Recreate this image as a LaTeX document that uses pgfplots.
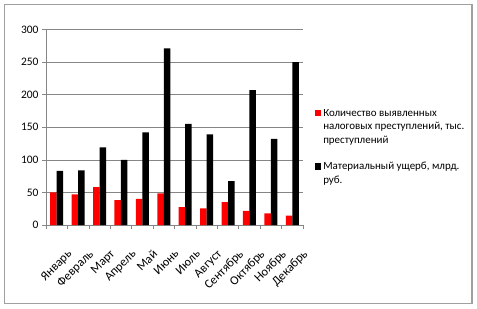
\documentclass[border=0pt]{standalone}
\usepackage{pgfplots}
\pgfplotsset{compat=1.18}
\usepackage{fontspec}
\setmainfont{Carlito}
\definecolor{gridgray}{RGB}{134,134,134}
\definecolor{framegray}{RGB}{160,160,160}
\begin{document}
\begin{tikzpicture}[x=1bp,y=1bp]
\path[use as bounding box] (0,0) rectangle (477,308);
\draw[framegray, line width=1.2bp] (4.5,4.5) rectangle (472,303.5);
\begin{axis}[
  at={(46bp,83bp)}, anchor=south west,
  scale only axis, width=257bp, height=195.5bp,
  ybar,
  ymin=0, ymax=300, ytick={0,50,...,300},
  xmin=-0.5, xmax=11.5,
  xtick={0,...,11},
  xticklabels={Январь,Февраль,Март,Апрель,Май,Июнь,Июль,Август,Сентябрь,Октябрь,Ноябрь,Декабрь},
  x tick label style={rotate=45, anchor=north east, inner sep=0bp, font=\fontsize{12.5}{12}\selectfont, yshift=-21bp, xshift=-7bp},
  y tick label style={font=\fontsize{11.5}{12}\selectfont},
  /pgf/number format/assume math mode=true,
  major x tick style={draw=none},
  minor xtick={-0.5,0.5,...,11.5},
  minor x tick style={draw=gridgray, line width=0.6bp},
  tick align=outside,
  major tick length=4bp, minor tick length=4bp,
  y tick style={draw=gridgray, line width=0.6bp},
  ymajorgrids, grid style={gridgray, line width=0.6bp},
  axis x line*=bottom, axis y line*=left,
  axis line style={gridgray, line width=0.6bp, -},
  legend style={at={(1.045,0.615)}, anchor=north west, draw=none, fill=none,
    font=\fontsize{11}{13.5}\selectfont,
    cells={anchor=base west},
    row sep=38.5bp, inner sep=0pt},
  legend image code/.code={\fill[#1] (0bp,0bp) rectangle (6.5bp,6.5bp);},
]
\addplot[fill=red, draw=none, bar width=6.5bp, bar shift=-3.25bp] coordinates {(0,50) (1,47) (2,58) (3,38) (4,40) (5,48.5) (6,27.5) (7,25.5) (8,35) (9,21.5) (10,18) (11,14.5)};
\addplot[fill=black, draw=none, bar width=6.5bp, bar shift=3.25bp] coordinates {(0,83) (1,84) (2,119) (3,100) (4,142) (5,271) (6,155) (7,139) (8,67.5) (9,207) (10,132) (11,250)};
\legend{{\begin{tabular}[t]{@{}l@{}}Количество выявленных\\налоговых преступлений, тыс.\\преступлений\end{tabular}}, {\begin{tabular}[t]{@{}l@{}}Материальный ущерб, млрд.\\руб.\end{tabular}}}
\end{axis}
\end{tikzpicture}
\end{document}
